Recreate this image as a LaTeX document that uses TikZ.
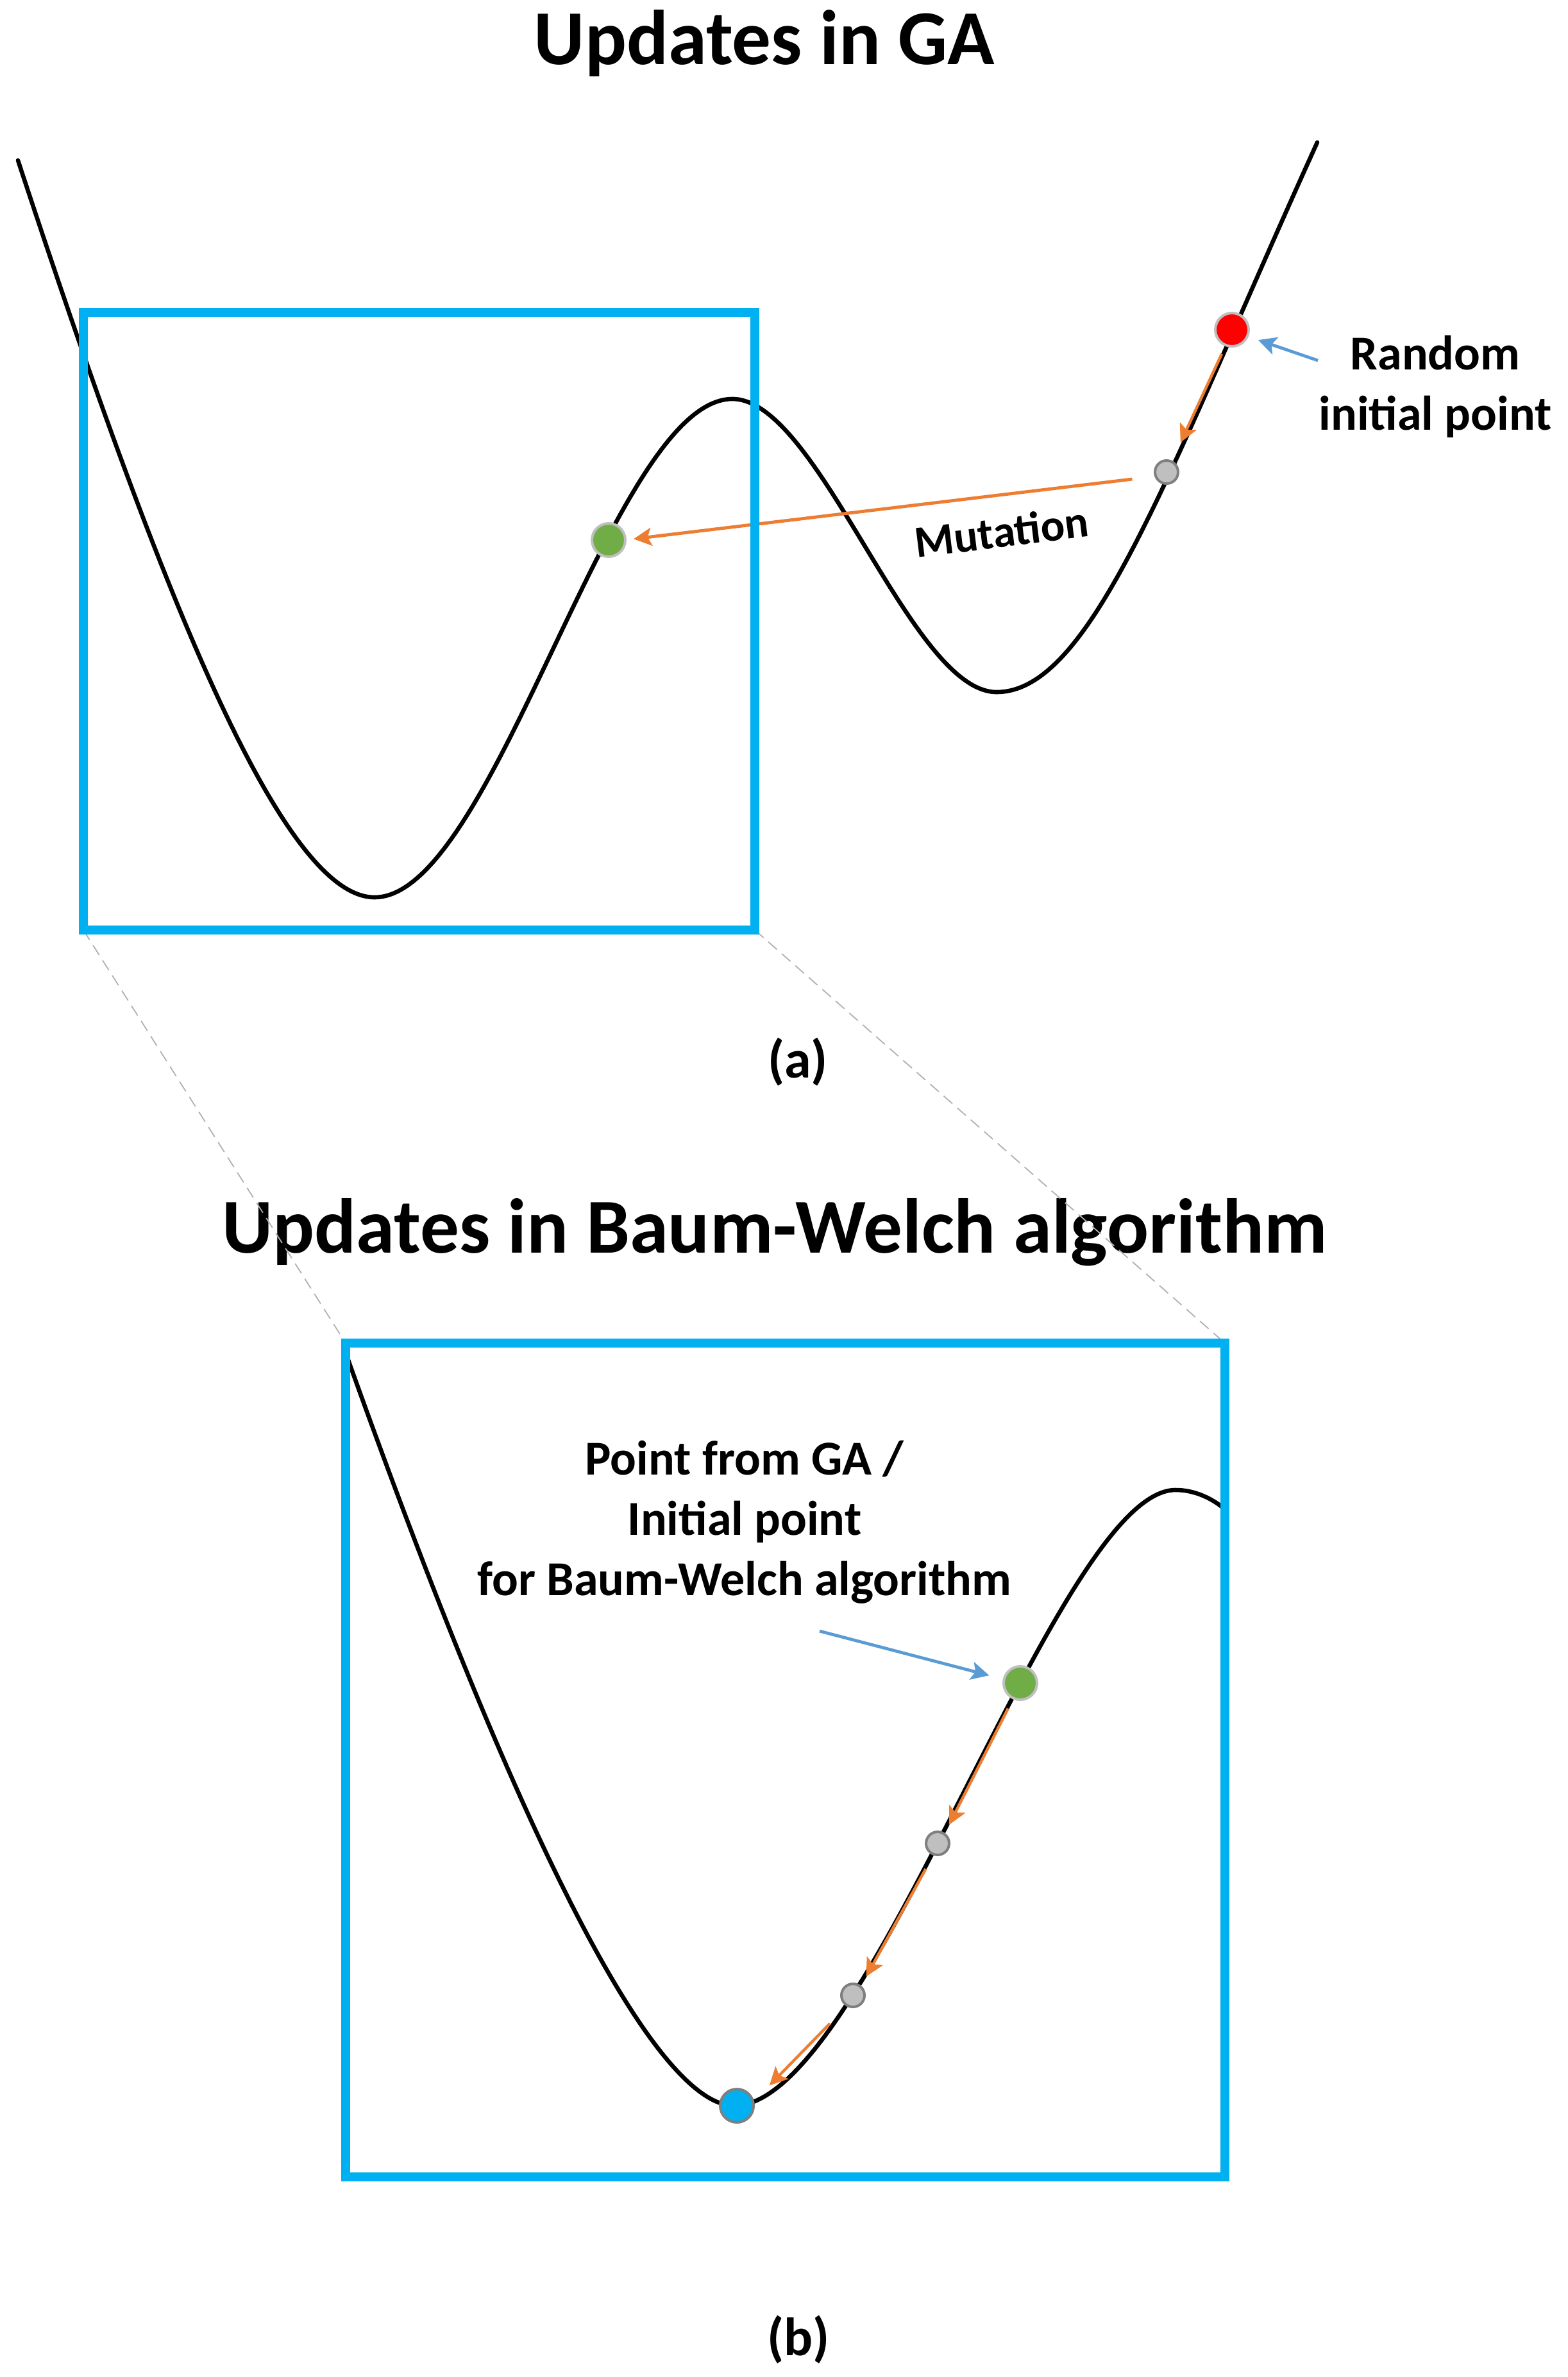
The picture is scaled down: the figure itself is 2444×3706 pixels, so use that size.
\documentclass[tikz,border=0pt]{standalone}
\usepackage{fontspec}
\setmainfont{Carlito}
\usetikzlibrary{arrows.meta}
\definecolor{boxblue}{HTML}{00B0F0}
\definecolor{arrorange}{HTML}{ED7D31}
\definecolor{arrblue}{HTML}{5B9BD5}
\definecolor{dotred}{HTML}{FF0000}
\definecolor{dotgreen}{HTML}{70AD47}
\definecolor{dotgray}{HTML}{BFBFBF}
\definecolor{rimdark}{HTML}{7F7F7F}
\definecolor{rimlight}{HTML}{BFBFBF}
\definecolor{zoomline}{HTML}{B0B0B0}
\begin{document}
\begin{tikzpicture}[x=0.25pt,y=-0.25pt,
  curve/.style={line width=1.65pt, black, line join=round, line cap=round},
  frame/.style={draw=boxblue, line width=3.5pt},
  zoomguide/.style={draw=zoomline, line width=0.45pt, dash pattern=on 4.5pt off 2.5pt},
  bigdot/.style={circle, inner sep=0pt, minimum size=13pt, line width=1pt},
  smalldot/.style={circle, inner sep=0pt, minimum size=9pt, line width=1pt, fill=dotgray, draw=rimdark},
  tip/.style={-{Stealth[length=7pt,width=7pt,inset=1.5pt]}},
  stepline/.style={tip, draw=arrorange, line width=1.1pt},
  mutline/.style={tip, draw=arrorange, line width=1.25pt},
  pointer/.style={tip, draw=arrblue, line width=1.2pt},
  titletext/.style={font=\fontsize{30.3pt}{36pt}\selectfont\bfseries, inner sep=0pt, anchor=base},
  labeltext/.style={font=\fontsize{19pt}{23.4pt}\selectfont\bfseries, inner sep=0pt, anchor=base, align=center},
  captext/.style={font=\fontsize{21pt}{25pt}\selectfont\bfseries, inner sep=0pt, anchor=base}
]
\useasboundingbox (0,0) rectangle (2444,3706);

% titles and captions
\node[titletext] (titleA) at (1192,100) {Updates in GA};
\node[titletext] (titleB) at (1208,1953) {Updates in Baum-Welch algorithm};
\node[captext] (capA) at (1244,1680) {(a)};
\node[captext] (capB) at (1245,3672) {(b)};

% zoom guide lines
\draw[zoomguide] (130,1450) -- (539,2094);
\draw[zoomguide] (1177,1450) -- (1910,2094);

% top landscape
\draw[curve] (28,250) .. controls (250,925) and (440,1399) .. (584,1399)
  .. controls (772,1399) and (954,622) .. (1142,622)
  .. controls (1277,622) and (1419,1079) .. (1554,1079)
  .. controls (1704,1079) and (1824,728) .. (2054,222);

% top points
\node[bigdot, fill=dotred, draw=rimlight] (red) at (1921,514) {};
\node[smalldot] (gray0) at (1819,736) {};
\node[bigdot, fill=dotgreen, draw=rimlight] (greenA) at (949,842) {};

\draw[mutline, shorten <=8.75pt, shorten >=2.75pt] (gray0.200) -- (greenA.1.5);
\draw[frame] (130,487) rectangle (1177,1450);
\draw[stepline, shorten <=3.25pt, shorten >=7.75pt] (red.248) -- (gray0.64);

\node[labeltext] (randlbl) at (2238,670) {Random\\initial point};
\coordinate (randptr) at (2055,562);
\draw[pointer, shorten >=4pt] (randptr) -- (red.337);

\node[font=\fontsize{17.5pt}{21pt}\selectfont\bfseries, inner sep=0pt, anchor=base, rotate=7] (mutlbl) at (1565,853) {Mutation};

% bottom landscape
\draw[curve] (540,2112) .. controls (860,3008) and (1045,3283) .. (1145,3283)
  .. controls (1355,3283) and (1648,2323) .. (1833,2323)
  .. controls (1863,2323) and (1888,2336) .. (1905,2349);
\draw[frame] (539,2094) rectangle (1910,3394);

\node[bigdot, fill=dotgreen, draw=rimlight] (greenB) at (1591,2624) {};
\node[smalldot] (gray1) at (1462,2874) {};
\node[smalldot] (gray2) at (1330,3111) {};
\node[bigdot, fill=boxblue, draw=rimdark] (bluemin) at (1149,3283) {};

\draw[stepline, shorten <=4pt, shorten >=3.5pt] (greenB.245) -- (gray1.55);
\draw[stepline, shorten <=6pt, shorten >=4pt] (gray1.250) -- (gray2.50);
\draw[stepline, shorten <=9.25pt, shorten >=8.5pt] (gray2.240) -- (bluemin.15);

\node[labeltext] (galbl) at (1161,2487) {Point from GA /\\Initial point\\for Baum-Welch algorithm};
\coordinate (gaptr) at (1278,2543);
\draw[pointer, shorten >=5.5pt] (gaptr) -- (greenB.167.6);
\end{tikzpicture}
\end{document}
